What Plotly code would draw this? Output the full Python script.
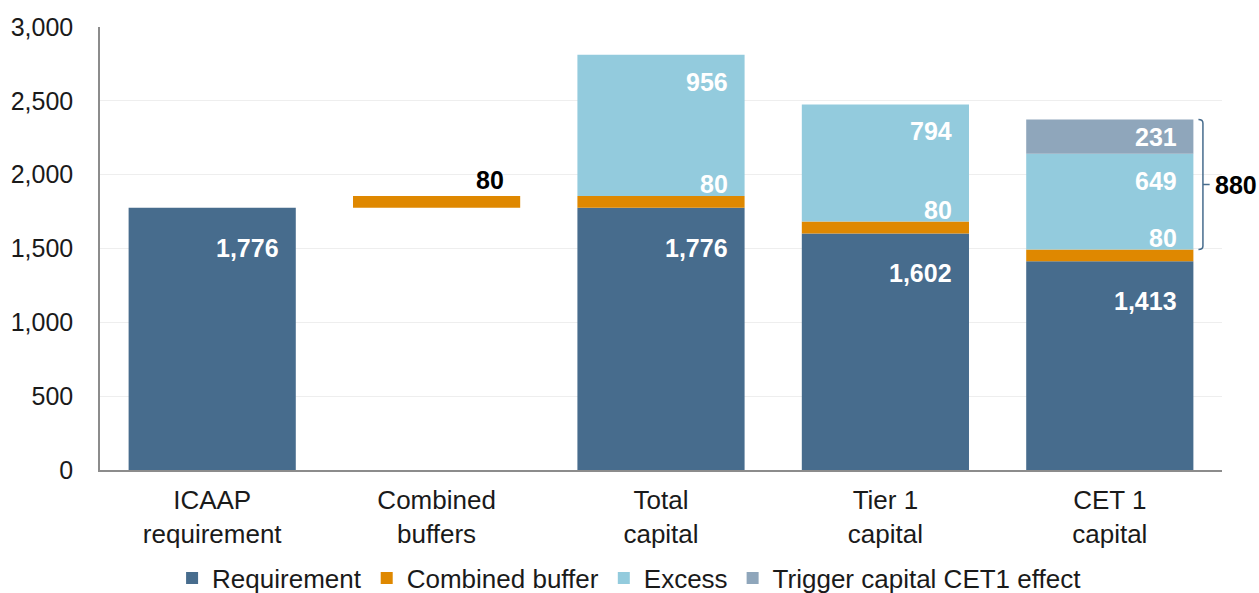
import plotly.graph_objects as go

categories = ["ICAAP<br>requirement", "Combined<br>buffers", "Total<br>capital", "Tier 1<br>capital", "CET 1<br>capital"]
requirement = [1776, None, 1776, 1602, 1413]
buffer = [None, 80, 80, 80, 80]
excess = [None, None, 956, 794, 649]
trigger = [None, None, None, None, 231]
bracket_total = 880
y_ticks = [0, 500, 1000, 1500, 2000, 2500, 3000]

C_REQ = "#476C8D"
C_BUF = "#DF8800"
C_EXC = "#93CBDD"
C_TRG = "#8FA6BB"

# bases
buffer_base = [requirement[0] if i == 1 else (requirement[i] if buffer[i] is not None else None) for i in range(5)]
buffer_top = [(buffer_base[i] + buffer[i]) if buffer[i] is not None else None for i in range(5)]
excess_top = [(buffer_top[i] + excess[i]) if excess[i] is not None else None for i in range(5)]
excess_base = [buffer_top[i] if excess[i] is not None else None for i in range(5)]
trigger_base = [excess_top[i] if trigger[i] is not None else None for i in range(5)]

WIDTH = 0.745
fig = go.Figure()
fig.add_bar(x=categories, y=requirement, name="Requirement", marker_color=C_REQ, width=WIDTH, marker_line_width=0)
fig.add_bar(x=categories, y=buffer, base=buffer_base, name="Combined buffer", marker_color=C_BUF, width=WIDTH, marker_line_width=0)
fig.add_bar(x=categories, y=excess, base=excess_base, name="Excess", marker_color=C_EXC, width=WIDTH, marker_line_width=0)
fig.add_bar(x=categories, y=trigger, base=trigger_base, name="Trigger capital CET1 effect", marker_color=C_TRG, width=WIDTH, marker_line_width=0)

FONT = "Liberation Sans, Arial, sans-serif"
XS = 69

def lab(i, y, text, color, yshift):
    fig.add_annotation(x=i, y=y, text=f"<b>{text}</b>", showarrow=False, xanchor="right",
                       yanchor="middle", xshift=XS, yshift=yshift,
                       font=dict(family=FONT, size=25, color=color))

for i in range(5):
    if requirement[i] is not None:
        lab(i, requirement[i], f"{requirement[i]:,}", "white", -40)
    if buffer[i] is not None:
        if i == 1:
            lab(i, buffer_top[i], f"{buffer[i]:,}", "black", 16)
        else:
            lab(i, buffer_top[i], f"{buffer[i]:,}", "white", 12)
    if excess[i] is not None:
        lab(i, excess_top[i], f"{excess[i]:,}", "white", -27)
    if trigger[i] is not None:
        lab(i, trigger_base[i] + trigger[i] / 2, f"{trigger[i]:,}", "white", 0)

# bracket on last bar
bi = 4
b_top = trigger_base[bi] + trigger[bi]
b_bot = buffer_top[bi]
b_mid = (b_top + b_bot) / 2
x0 = bi + 0.395
x1 = bi + 0.415
x2 = bi + 0.445
r = 12
fig.add_shape(type="path", path=(f"M {x0},{b_top} Q {x1},{b_top} {x1},{b_top - 2*r} L {x1},{b_mid} L {x2},{b_mid} "
                                  f"M {x1},{b_mid} L {x1},{b_bot + 2*r} Q {x1},{b_bot} {x0},{b_bot}"),
              xref="x", yref="y", line=dict(color=C_REQ, width=1.5))
fig.add_annotation(x=bi, y=b_mid, text=f"<b>{bracket_total:,}</b>", showarrow=False, xanchor="left",
                   yanchor="middle", xshift=103, font=dict(family=FONT, size=25, color="black"))

fig.update_layout(
    width=1259, height=593,
    margin=dict(l=100, r=37, t=27, b=123, autoexpand=False),
    plot_bgcolor="white", paper_bgcolor="white",
    barmode="overlay",
    font=dict(family=FONT, size=25, color="#1a1a1a"),
    legend=dict(orientation="h", x=0.472, xanchor="center", y=-0.244, yanchor="middle",
                font=dict(family=FONT, size=26, color="#1a1a1a"), itemwidth=30, traceorder="normal",
                tracegroupgap=0),
    showlegend=True,
)
fig.update_xaxes(type="category", showline=True, linecolor="#8c8c8c", linewidth=1.5, ticks="",
                 automargin=False, ticklabelstandoff=6,
                 tickfont=dict(family=FONT, size=26, color="#1a1a1a"), range=[-0.5, 4.5])
fig.update_yaxes(range=[0, 3000], tickvals=y_ticks, tickformat=",", showline=True, linecolor="#8c8c8c",
                 linewidth=1.5, showgrid=True, gridcolor="#EEEEEE", gridwidth=1, zeroline=False,
                 automargin=False,
                 ticklabelstandoff=20, tickfont=dict(family=FONT, size=25, color="#1a1a1a"))

fig.write_html("out.html", config={"displayModeBar": False},
               post_script="document.body.style.margin='0';")
